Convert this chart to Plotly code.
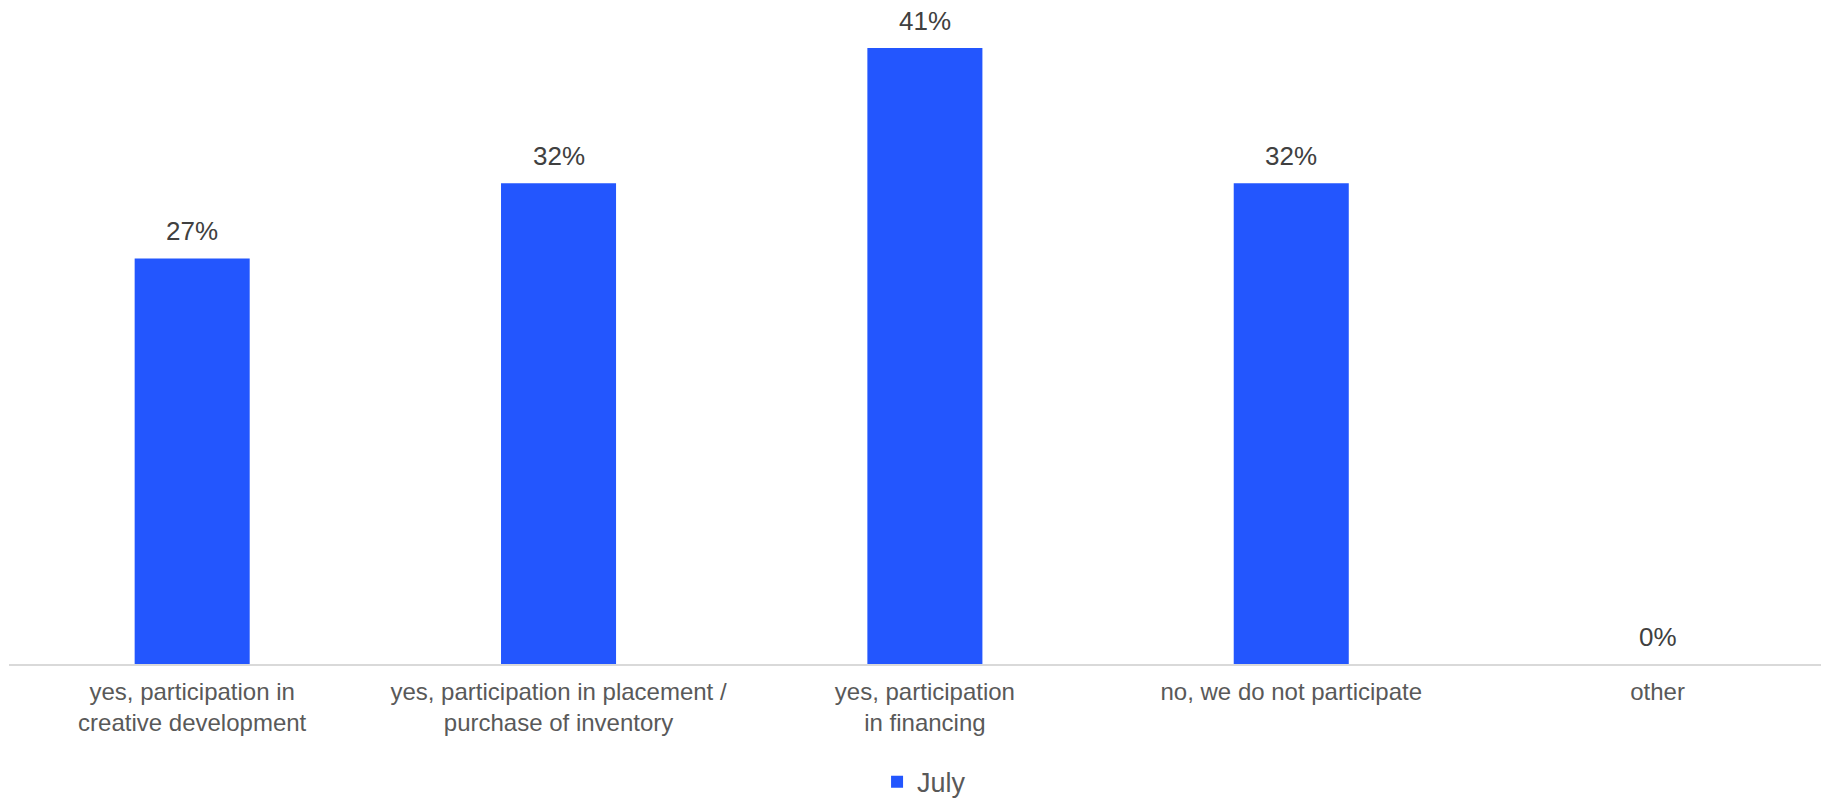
import plotly.graph_objects as go

categories = [
    "yes, participation in<br>creative development",
    "yes, participation in placement /<br>purchase of inventory",
    "yes, participation<br>in financing",
    "no, we do not participate",
    "other",
]
series_name = "July"
values = [27, 32, 41, 32, 0]
value_labels = ["27%", "32%", "41%", "32%", "0%"]

BAR_COLOR = "#2356FE"
FONT = "Liberation Sans, Arial, sans-serif"

x_idx = list(range(len(categories)))

fig = go.Figure()
fig.add_trace(go.Bar(
    x=x_idx, y=values, name=series_name,
    marker=dict(color=BAR_COLOR, line=dict(width=0)),
    width=0.314,
    hoverinfo="skip",
))

for xi, v, lab in zip(x_idx, values, value_labels):
    fig.add_annotation(
        x=xi, y=v, text=lab, showarrow=False,
        yanchor="bottom", yshift=10,
        font=dict(family=FONT, size=26, color="#404040"),
    )

fig.update_layout(
    width=1821, height=799,
    margin=dict(l=9, r=0, t=0, b=135),
    paper_bgcolor="white", plot_bgcolor="white",
    font=dict(family=FONT),
    showlegend=True,
    legend=dict(
        orientation="h", x=0.505, xanchor="center",
        yref="container", y=0.021, yanchor="middle",
        font=dict(family=FONT, size=27, color="#595959"),
    ),
    xaxis=dict(
        tickmode="array", tickvals=x_idx, ticktext=categories,
        range=[-0.5, 4.446], automargin=False,
        showgrid=False, zeroline=False,
        showline=True, linecolor="#d9d9d9", linewidth=2,
        ticks="", ticklabelstandoff=5,
        tickfont=dict(family=FONT, size=24, color="#595959"),
    ),
    yaxis=dict(
        range=[0, 44.2], visible=False, showgrid=False, zeroline=False,
        automargin=False,
    ),
)

fig.write_html(
    "out.html",
    config={"displayModeBar": False},
    post_script="document.body.style.margin='0px';document.body.style.overflow='hidden';",
)
